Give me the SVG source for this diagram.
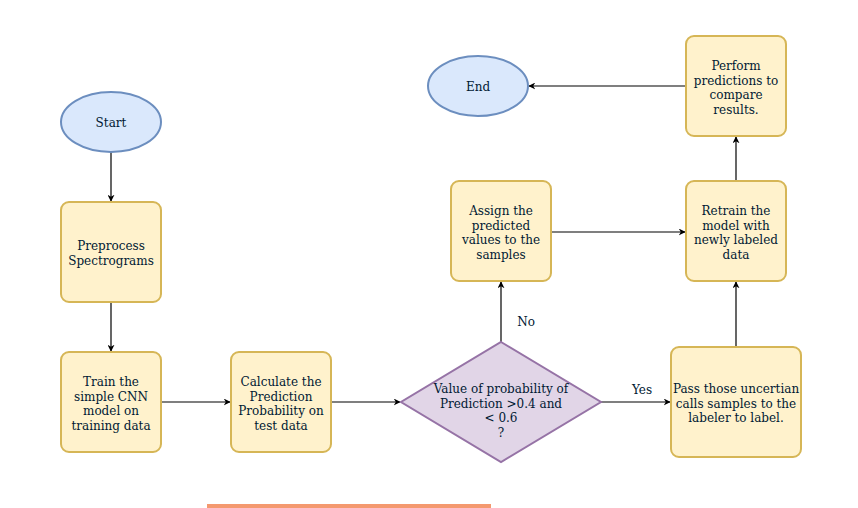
<svg xmlns="http://www.w3.org/2000/svg" width="858" height="508" viewBox="0 0 858 508">
<defs>
<marker id="arr" viewBox="0 0 10 10" refX="9" refY="5" markerWidth="7" markerHeight="7" markerUnits="userSpaceOnUse" orient="auto">
<path d="M0,0 L10,5 L0,10 L3,5 Z" fill="#000"/>
</marker>
</defs>
<style>
.box{fill:#fff2cc;stroke:#d6b656;stroke-width:2}
.ell{fill:#dae8fc;stroke:#6c8ebf;stroke-width:2}
.dia{fill:#e1d5e7;stroke:#9673a6;stroke-width:2}
.t{font-family:"DejaVu Serif",serif;font-size:12px;fill:#001933;text-anchor:middle}
.c{fill:none;stroke:#000;stroke-width:1.2;marker-end:url(#arr)}
</style>
<rect width="858" height="508" fill="#fff"/>
<g id="connectors">
<path class="c" d="M111,152 L111,201"/>
<path class="c" d="M111,302 L111,351"/>
<path class="c" d="M161,402 L230,402"/>
<path class="c" d="M331,402 L400,402"/>
<path class="c" d="M601,402 L670,402"/>
<path class="c" d="M501,342 L501,282"/>
<path class="c" d="M551,232 L685,232"/>
<path class="c" d="M736,347 L736,282"/>
<path class="c" d="M736,181 L736,137"/>
<path class="c" d="M686,86 L529,86"/>
<text class="t" x="526" y="326">No</text>
<text class="t" x="642" y="394">Yes</text>
</g>
<g id="start"><ellipse class="ell" cx="111" cy="122" rx="50" ry="30"/><text class="t" x="111" y="127">Start</text></g>
<g id="preprocess"><rect class="box" x="61" y="202" width="100" height="100" rx="8"/><text class="t" x="111" y="250">Preprocess</text><text class="t" x="111" y="265">Spectrograms</text></g>
<g id="train"><rect class="box" x="61" y="352" width="100" height="100" rx="8"/><text class="t" x="111" y="386">Train the</text><text class="t" x="111" y="400.5">simple CNN</text><text class="t" x="111" y="415">model on</text><text class="t" x="111" y="429.5">training data</text></g>
<g id="calculate"><rect class="box" x="231" y="352" width="100" height="100" rx="8"/><text class="t" x="281" y="386">Calculate the</text><text class="t" x="281" y="400.5">Prediction</text><text class="t" x="281" y="415">Probability on</text><text class="t" x="281" y="429.5">test data</text></g>
<g id="decision"><path class="dia" d="M501,342 L601,402 L501,462 L401,402 Z"/><text class="t" x="501" y="393">Value of probability of</text><text class="t" x="501" y="407.5">Prediction &gt;0.4 and</text><text class="t" x="501" y="422">&lt; 0.6</text><text class="t" x="501" y="436.5">?</text></g>
<g id="pass"><rect class="box" x="671" y="347" width="130" height="110" rx="8"/><text class="t" x="736" y="393">Pass those uncertian</text><text class="t" x="736" y="407.5">calls samples to the</text><text class="t" x="736" y="422">labeler to label.</text></g>
<g id="assign"><rect class="box" x="451" y="181" width="100" height="100" rx="8"/><text class="t" x="501" y="215">Assign the</text><text class="t" x="501" y="229.5">predicted</text><text class="t" x="501" y="244">values to the</text><text class="t" x="501" y="258.5">samples</text></g>
<g id="retrain"><rect class="box" x="686" y="181" width="100" height="100" rx="8"/><text class="t" x="736" y="215">Retrain the</text><text class="t" x="736" y="229.5">model with</text><text class="t" x="736" y="244">newly labeled</text><text class="t" x="736" y="258.5">data</text></g>
<g id="perform"><rect class="box" x="686" y="36" width="100" height="100" rx="8"/><text class="t" x="736" y="70">Perform</text><text class="t" x="736" y="84.5">predictions to</text><text class="t" x="736" y="99">compare</text><text class="t" x="736" y="113.5">results.</text></g>
<g id="end"><ellipse class="ell" cx="478" cy="86" rx="50" ry="30"/><text class="t" x="478" y="91">End</text></g>
<rect x="207" y="504" width="284" height="4" fill="#f4996f"/>
</svg>
